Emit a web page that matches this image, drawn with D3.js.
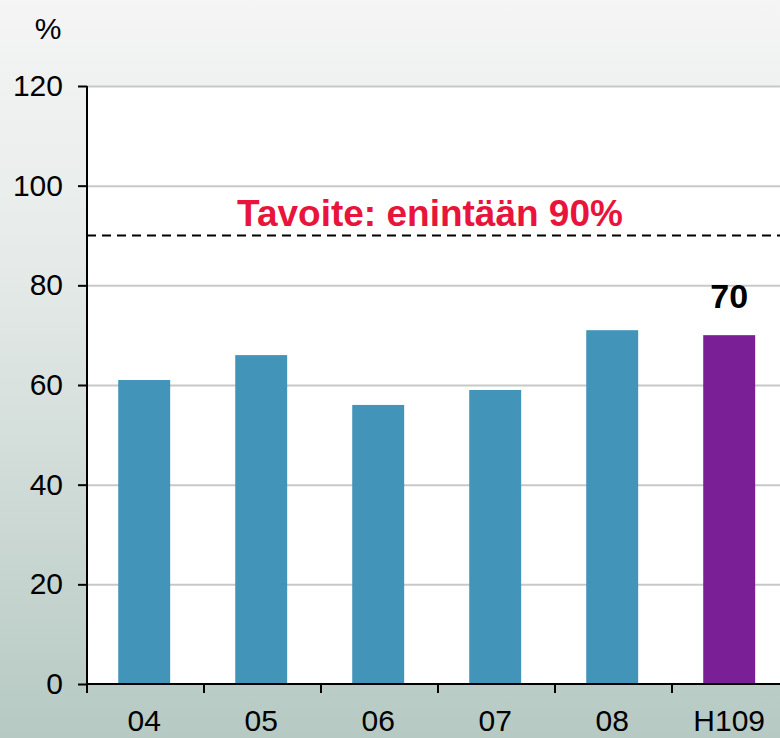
<!DOCTYPE html>
<html>
<head>
<meta charset="utf-8">
<script src="https://cdn.jsdelivr.net/npm/d3@7"></script>
<style>
  html, body { margin: 0; padding: 0; overflow: hidden; }
  svg { display: block; font-family: "Liberation Sans", Arial, sans-serif; }
</style>
</head>
<body>
<svg id="chart"></svg>
<script>
const CATEGORIES = ['04', '05', '06', '07', '08', 'H109'];
const VALUES = [61, 66, 56, 59, 71, 70];
const Y_TICKS = [0, 20, 40, 60, 80, 100, 120];
const TARGET = 90;
const TARGET_LABEL = 'Tavoite: enintään 90%';
const HIGHLIGHT_LABEL = '70';

const SVG_WIDTH = 780;
const SVG_HEIGHT = 738;
const MARGIN = { top: 86, right: -9, bottom: 54, left: 87 };
const WIDTH = SVG_WIDTH - MARGIN.left - MARGIN.right;
const HEIGHT = SVG_HEIGHT - MARGIN.top - MARGIN.bottom;
const FONT = '"Liberation Sans", Arial, sans-serif';

const x = d3.scaleBand().domain(CATEGORIES).range([0, WIDTH]).paddingInner(0.556).paddingOuter(0.278).align(0.48);
const y = d3.scaleLinear().domain([0, 120]).range([HEIGHT, 0]);

const root = d3.select('#chart')
	.attr('width', SVG_WIDTH)
	.attr('height', SVG_HEIGHT);

// background gradient
const grad = root.append('defs').append('linearGradient')
	.attr('id', 'bg')
	.attr('x1', 0).attr('y1', 0).attr('x2', 0).attr('y2', 1);
grad.append('stop').attr('offset', '0%').attr('stop-color', '#f4f5f4');
grad.append('stop').attr('offset', '35%').attr('stop-color', '#e6ebe9');
grad.append('stop').attr('offset', '100%').attr('stop-color', '#b6c9c3');

root.append('rect')
	.attr('width', SVG_WIDTH)
	.attr('height', SVG_HEIGHT)
	.attr('fill', 'url(#bg)');

const svg = root.append('g')
	.attr('transform', 'translate(' + MARGIN.left + ', ' + MARGIN.top + ')');

svg.append('rect')
	.attr('width', WIDTH)
	.attr('height', HEIGHT)
	.attr('fill', '#ffffff');

// grid
svg.append('g')
	.attr('class', 'grid')
	.call(d3.axisLeft(y).tickValues(Y_TICKS).tickSize(-WIDTH).tickFormat(''))
	.call(g => g.select('.domain').remove())
	.call(g => g.selectAll('line').attr('stroke', '#c8c8c8').attr('stroke-width', 2));

// bars
svg.selectAll('.bar')
	.data(VALUES)
	.enter()
	.append('rect')
		.attr('class', 'bar')
		.attr('x', (d, i) => x(CATEGORIES[i]))
		.attr('y', d => y(d))
		.attr('width', x.bandwidth())
		.attr('height', d => HEIGHT - y(d))
		.attr('fill', (d, i) => i === VALUES.length - 1 ? '#7a1f96' : '#4295b9');

// target line
svg.append('line')
	.attr('x1', 0)
	.attr('x2', WIDTH)
	.attr('y1', y(TARGET))
	.attr('y2', y(TARGET))
	.attr('stroke', '#000')
	.attr('stroke-width', 2)
	.attr('stroke-dasharray', '9,6');

svg.append('text')
	.attr('x', 430 - MARGIN.left)
	.attr('y', y(TARGET) - 10)
	.attr('text-anchor', 'middle')
	.attr('font-size', 37)
	.attr('font-weight', 'bold')
	.attr('fill', '#e8143c')
	.text(TARGET_LABEL);

const last = CATEGORIES.length - 1;
svg.append('text')
	.attr('x', x(CATEGORIES[last]) + x.bandwidth() / 2)
	.attr('y', y(VALUES[last]) - 27)
	.attr('text-anchor', 'middle')
	.attr('font-size', 34)
	.attr('font-weight', 'bold')
	.attr('fill', '#000')
	.text(HIGHLIGHT_LABEL);

// Y-Axis
svg.append('g')
	.attr('class', 'axis')
	.call(d3.axisLeft(y).tickValues(Y_TICKS).tickSize(9).tickPadding(15))
	.call(g => g.select('.domain').attr('stroke-width', 2).attr('d', 'M0,0V' + HEIGHT))
	.call(g => g.selectAll('line').attr('stroke-width', 2))
	.call(g => g.selectAll('text').attr('font-size', 30).attr('fill', '#000').attr('font-family', FONT));

// X-Axis
const boundaries = d3.range(CATEGORIES.length + 1).map(i => i * x.step());
const xAxis = svg.append('g')
	.attr('class', 'axis')
	.attr('transform', 'translate(0, ' + HEIGHT + ')');
xAxis.append('line')
	.attr('x1', 0).attr('x2', WIDTH)
	.attr('stroke', '#000').attr('stroke-width', 2);
xAxis.selectAll('.tick-mark')
	.data(boundaries)
	.enter()
	.append('line')
		.attr('x1', d => d).attr('x2', d => d)
		.attr('y1', 0).attr('y2', 9)
		.attr('stroke', '#000').attr('stroke-width', 2);
xAxis.selectAll('.tick-label')
	.data(CATEGORIES)
	.enter()
	.append('text')
		.attr('x', d => x(d) + x.bandwidth() / 2)
		.attr('y', 47)
		.attr('text-anchor', 'middle')
		.attr('font-size', 30)
		.attr('fill', '#000')
		.text(d => d);

root.append('text')
	.attr('x', 48)
	.attr('y', 39)
	.attr('text-anchor', 'middle')
	.attr('font-size', 30)
	.attr('fill', '#000')
	.text('%');
</script>
</body>
</html>
